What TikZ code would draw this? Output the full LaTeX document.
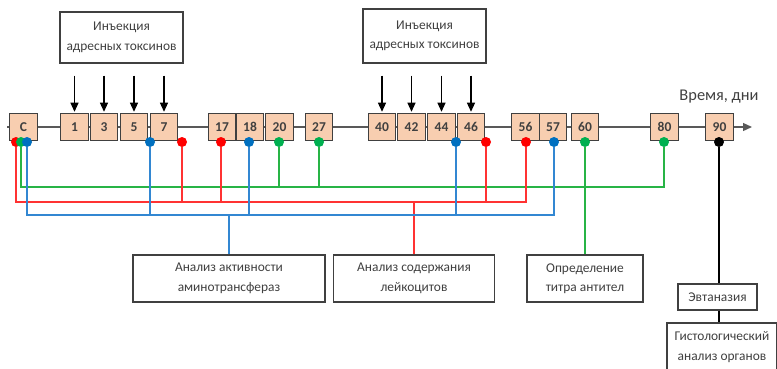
\documentclass[tikz,border=0pt]{standalone}
\usepackage{fontspec}
\setmainfont{Carlito}
\usetikzlibrary{
  arrows.meta,
  positioning,
  calc
}
\definecolor{dayFill}{RGB}{248,206,176}
\definecolor{boxGray}{RGB}{64,64,64}
\definecolor{axisGray}{RGB}{89,89,89}
\definecolor{markRed}{RGB}{255,0,0}
\definecolor{markGreen}{RGB}{0,176,80}
\definecolor{markBlue}{RGB}{0,112,192}
\definecolor{wireRed}{RGB}{255,50,50}
\definecolor{wireGreen}{RGB}{40,180,70}
\definecolor{wireBlue}{RGB}{50,135,210}
\tikzset{
  day/.style={
    draw=boxGray,
    fill=dayFill,
    line width=1pt,
    minimum size=27.5pt,
    inner sep=0pt,
    text=boxGray,
    font=\fontsize{13.5}{13.5}\selectfont\bfseries
  }
}
\tikzset{
  labelBox/.style={
    draw=boxGray,
    fill=white,
    line width=1.2pt,
    align=center,
    inner sep=0pt,
    text=boxGray,
    font=\fontsize{13.4}{19.5}\selectfont
  }
}
\tikzset{
  dot/.style={circle, fill=#1, inner sep=0pt, minimum size=10pt},
  wire/.style={draw=#1, line width=1.4pt},
  inject/.style={draw=black, line width=1.1pt,
    -{Triangle[length=9pt,width=8pt]}, shorten >=1pt}
}

\begin{document}
\begin{tikzpicture}[x=1pt, y=-1pt]
    \useasboundingbox (0,0) rectangle (777,369);

    % time axis
    \coordinate (t0) at (7,127);
    \coordinate (t1) at (752,127);
    \draw[axisGray, line width=1.3pt, -{Triangle[length=9pt,width=8pt]}]
    (t0) -- (t1);
    \node[font=\fontsize{16.4}{16.4}\selectfont, text=boxGray]
    (timeLabel) at (719,97) {Время, дни};

    \foreach \Day/\x in {C/23.5, 1/74.5, 3/104, 5/134, 7/164, 17/222,
      18/250, 20/279.5, 27/319, 40/382, 42/411.5, 44/441.5, 46/471,
      56/525.5, 57/553, 60/585, 80/664.5, 90/719.5}
      \node[day] (d\Day) at (\x,127) {\Day};

    % injections
    \node[labelBox, minimum width=123pt, minimum height=51pt]
    (inj1) at (121.5,37.5) {Инъекция\\адресных токсинов};
    \node[labelBox, minimum width=123pt, minimum height=54pt]
    (inj2) at (424.5,36) {Инъекция\\адресных токсинов};
    \foreach \Day in {1,3,5,7,40,42,44,46}
      \draw[inject] ([yshift=37pt]d\Day.north) -- (d\Day.north);

    % analyses
    \node[labelBox, minimum width=192pt, minimum height=47pt]
    (enzymes) at (229,278.5) {Анализ активности\\аминотрансфераз};
    \node[labelBox, minimum width=161pt, minimum height=47pt]
    (leuko) at (414,278.5) {Анализ содержания\\лейкоцитов};
    \node[labelBox, minimum width=116pt, minimum height=47pt]
    (titre) at (585,278.5) {Определение\\титра антител};
    \node[labelBox, minimum width=79pt, minimum height=26pt]
    (euth) at (717.5,297) {Эвтаназия};
    \node[labelBox, minimum width=110pt, minimum height=48pt]
    (histo) at (722,347) {Гистологический\\анализ органов};

    % sampling points
    \foreach \Name/\x in {C/16, 7/182, 17/221, 46/486, 56/526}
      \node[dot=markRed] (r\Name) at (\x,142) {};
    \foreach \Name/\x in {C/21, 20/279, 27/319, 60/585, 80/664}
      \node[dot=markGreen] (g\Name) at (\x,142) {};
    \foreach \Name/\x in {C/27, 7/150, 18/249, 46/456, 57/554}
      \node[dot=markBlue] (b\Name) at (\x,142) {};
    \node[dot=black] (k90) at (719,142) {};

    \coordinate (greenBus) at (0,187);
    \coordinate (redBus) at (0,202);
    \coordinate (blueBus) at (0,215);

    \draw[wire=wireGreen] (gC.south) -- (gC |- greenBus) -| (g80.south);
    \foreach \Name in {g20,g27}
      \draw[wire=wireGreen] (\Name.south) -- (\Name |- greenBus);
    \draw[wire=wireGreen] (g60.south) -- (titre.north);

    \draw[wire=wireRed] (rC.south) -- (rC |- redBus) -| (r56.south);
    \foreach \Name in {r7,r17,r46}
      \draw[wire=wireRed] (\Name.south) -- (\Name |- redBus);
    \draw[wire=wireRed] (leuko.north) -- (leuko.north |- redBus);

    \draw[wire=wireBlue] (bC.south) -- (bC |- blueBus) -| (b57.south);
    \foreach \Name in {b7,b18,b46}
      \draw[wire=wireBlue] (\Name.south) -- (\Name |- blueBus);
    \draw[wire=wireBlue] (enzymes.north) -- (enzymes.north |- blueBus);

    \draw[wire=black] (k90.south) -- (k90 |- euth.north);
    \draw[wire=black] (k90 |- euth.south) -- (k90 |- histo.north);
  \end{tikzpicture}
\end{document}
